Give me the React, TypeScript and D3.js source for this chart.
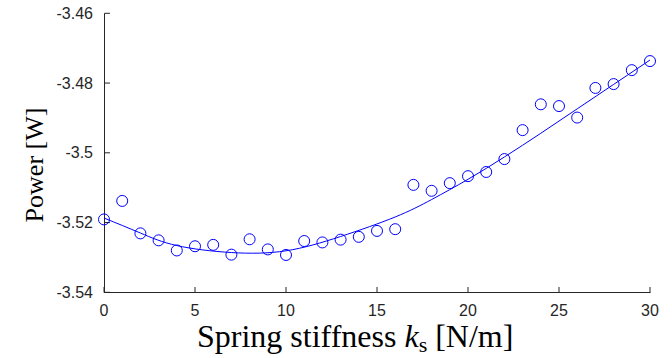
import React from "react";
import * as d3 from "d3";

const stiffness = [0,1,2,3,4,5,6,7,8,9,10,11,12,13,14,15,16,17,18,19,20,21,22,23,24,25,26,27,28,29,30];
const power = [-3.5191,-3.5138,-3.5231,-3.5251,-3.5280,-3.5268,-3.5264,-3.5292,-3.5248,-3.5277,-3.5293,-3.5253,-3.5257,-3.5249,-3.5241,-3.5224,-3.5219,-3.5092,-3.5109,-3.5087,-3.5067,-3.5055,-3.5018,-3.4935,-3.4861,-3.4866,-3.4899,-3.4814,-3.4803,-3.4763,-3.4737];
const fitX = [0,2,4,7,10,13,16,18,20,22,24,26,28,30];
const fitY = [-3.5187,-3.5230,-3.5266,-3.5286,-3.5281,-3.5240,-3.5184,-3.5134,-3.5076,-3.5012,-3.4944,-3.4874,-3.4804,-3.4734];
const xTicks = [0,5,10,15,20,25,30];
const yTicks = [-3.46,-3.48,-3.5,-3.52,-3.54];
const yTickLabels = ["-3.46","-3.48","-3.5","-3.52","-3.54"];

export default function App() {
  const W = 672, H = 358;
  const x = d3.scaleLinear().domain([0, 30]).range([104, 650]);
  const y = d3.scaleLinear().domain([-3.54, -3.46]).range([292.3, 13.3]);
  const line = d3.line<number>().x((_, i) => x(fitX[i])).y((d) => y(d)).curve(d3.curveNatural);
  const axisColor = "#262626";
  return (
    <svg width={W} height={H} style={{ position: "absolute", left: 0, top: 0, background: "#fff" }}>
      <g fill="none" stroke={axisColor} strokeWidth={1}>
        <line x1={104.5} x2={104.5} y1={13.3} y2={292.8} />
        <line x1={104} x2={650.5} y1={292.5} y2={292.5} />
        {yTicks.map((t) => (
          <line key={t} x1={104.5} x2={110} y1={y(t)} y2={y(t)} />
        ))}
        {xTicks.map((t) => (
          <line key={t} x1={x(t)} x2={x(t)} y1={292.5} y2={287} />
        ))}
      </g>
      <g fontFamily="'Liberation Sans', Arial, sans-serif" fontSize={16} fill={axisColor}>
        {yTicks.map((t, i) => (
          <text key={t} x={93} y={y(t)} dy="0.35em" textAnchor="end">{yTickLabels[i]}</text>
        ))}
        {xTicks.map((t) => (
          <text key={t} x={x(t)} y={316} textAnchor="middle">{t}</text>
        ))}
      </g>
      <path d={line(fitY) || ""} fill="none" stroke="#0000ff" strokeWidth={1} />
      <g fill="none" stroke="#0000ff" strokeWidth={1}>
        {stiffness.map((s, i) => (
          <circle key={s} cx={x(s)} cy={y(power[i])} r={5.5} />
        ))}
      </g>
      <text x={197} y={347} fontFamily="'Liberation Serif', 'Times New Roman', serif" fontSize={32} fill="#000">
        Spring stiffness <tspan fontStyle="italic">k</tspan><tspan fontSize={22} dy={5}>s</tspan><tspan dy={-5}> [N/m]</tspan>
      </text>
      <text transform="translate(43,165) rotate(-90)" textAnchor="middle" fontFamily="'Liberation Serif', 'Times New Roman', serif" fontSize={26} fill="#000">
        Power [W]
      </text>
    </svg>
  );
}
